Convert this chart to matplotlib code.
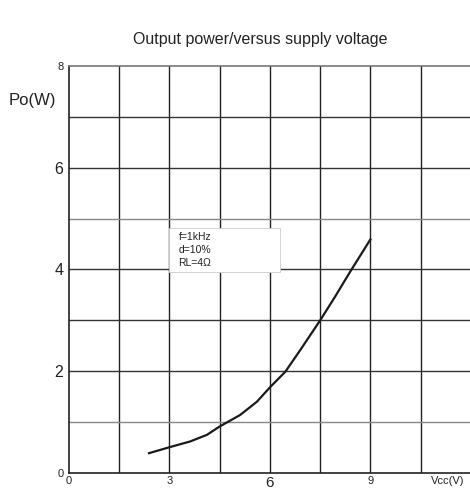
import matplotlib
matplotlib.use("Agg")
import matplotlib.pyplot as plt
import numpy as np
from matplotlib.patches import Rectangle

plt.rcParams["font.family"] = ["Liberation Sans", "DejaVu Sans"]

# Curve
vcc = [2.39, 3.02, 3.62, 4.12, 4.49, 5.11, 5.61, 6.01, 6.46, 6.91, 7.5, 7.95, 8.4, 9.0]
po = [0.39, 0.51, 0.62, 0.75, 0.91, 1.14, 1.40, 1.69, 1.99, 2.42, 3.0, 3.47, 3.96, 4.59]

x_ticks = [0, 3, 6, 9, 11.3]
x_labels = ["0", "3", "6", "9", "Vcc(V)"]
x_sizes = [8, 8, 11, 8, 8]
y_ticks = [0, 2, 4, 6, 8]
y_labels = ["0", "2", "4", "6", "8"]
y_sizes = [8, 11.5, 11.5, 11.5, 8]
note = "f=1kHz\nd=10%\nRL=4\u03a9"

fig = plt.figure(figsize=(4.7, 4.93), dpi=100)
ax = fig.add_axes([0.1468, 0.0406, 0.855, 0.8256])
ax.set_xlim(0, 12)
ax.set_ylim(0, 8)

# Grid
for xv in np.arange(1.5, 12, 1.5):
    ax.axvline(xv, color="#222222", lw=1.0, zorder=1)
for yv in np.arange(1, 8, 1):
    c = "#888888" if yv in (1, 5) else "#333333"
    ax.axhline(yv, color=c, lw=1.0, zorder=1)

# Curve
ax.plot(vcc, po, color="#1a1a1a", lw=1.6, zorder=3, solid_joinstyle="round")

# Annotation box
ax.add_patch(Rectangle((3.0, 3.96), 3.3, 0.85, facecolor="white",
                       edgecolor="#cccccc", lw=0.6, zorder=2))
ax.text(3.27, 4.38, note, fontsize=7.5, color="#222222", va="center",
        ha="left", linespacing=1.35, zorder=4)

ax.set_xticks(x_ticks, x_labels)
ax.set_yticks(y_ticks, y_labels)
for lab, s in zip(ax.get_xticklabels(), x_sizes):
    lab.set_fontsize(s)
for lab, s in zip(ax.get_yticklabels(), y_sizes):
    lab.set_fontsize(s)
ax.tick_params(length=0, colors="#222222", pad=4)
ax.tick_params(axis="x", pad=2.5)

ax.spines["left"].set_color("#222222")
ax.spines["bottom"].set_color("#222222")
ax.spines["top"].set_color("#777777")
ax.spines["right"].set_visible(False)
for s in ax.spines.values():
    s.set_linewidth(1.2)

fig.text(0.553, 0.919, "Output power/versus supply voltage", ha="center",
         va="center", fontsize=11.5, color="#222222")
fig.text(0.019, 0.797, "Po(W)", ha="left", va="center", fontsize=12,
         color="#222222")

fig.savefig("out.png", dpi=100)
